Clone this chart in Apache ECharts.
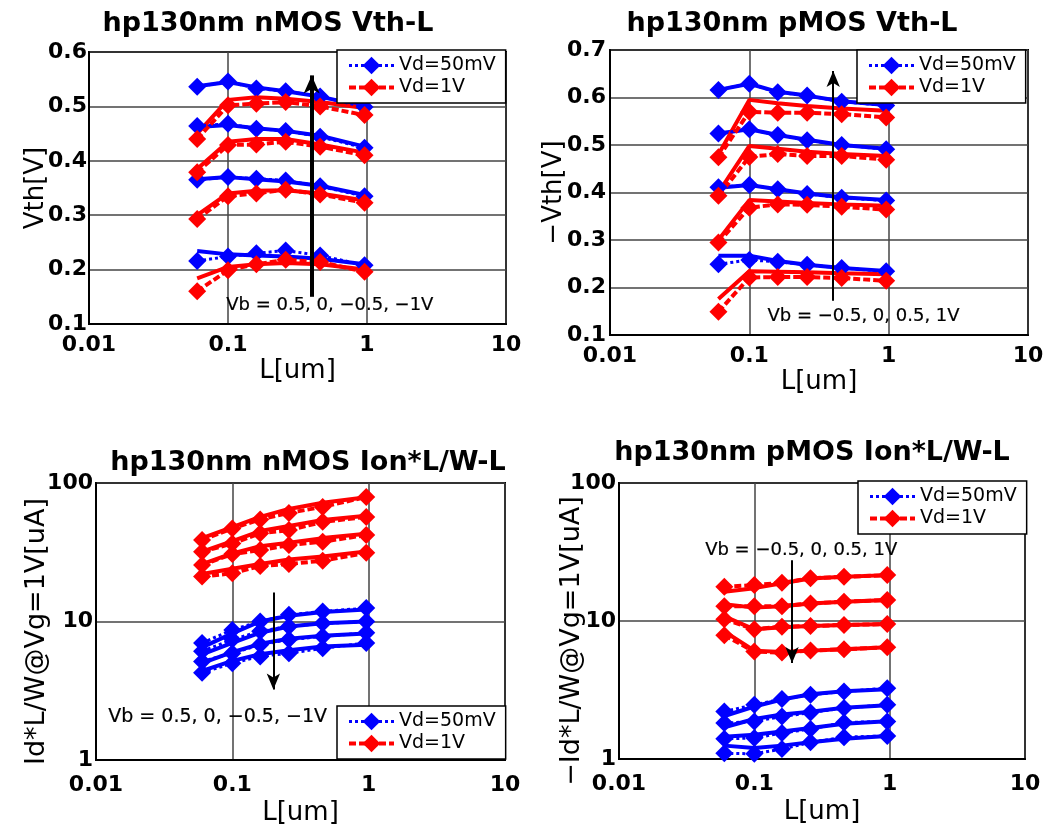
<!DOCTYPE html>
<html><head><meta charset="utf-8">
<script src="https://cdn.jsdelivr.net/npm/echarts@6/dist/echarts.min.js"></script>
<style>html,body{margin:0;padding:0;background:#fff}#c{width:1051px;height:827px}</style>
</head><body><div id="c"></div>
<script>
// Gate length points [um]
const L = [0.06, 0.1, 0.16, 0.26, 0.46, 0.96];

// ---- Panel 1: nMOS Vth-L (measured, with markers) ----
const nVth_Vd50m_meas = [
  [0.536, 0.546, 0.533, 0.528, 0.518, 0.499],
  [0.464, 0.468, 0.459, 0.455, 0.444, 0.424],
  [0.365, 0.370, 0.367, 0.364, 0.353, 0.335],
  [0.216, 0.224, 0.230, 0.235, 0.226, 0.208]
];
const nVth_Vd1_meas = [
  [0.440, 0.502, 0.505, 0.508, 0.500, 0.484],
  [0.379, 0.429, 0.430, 0.435, 0.426, 0.410],
  [0.293, 0.335, 0.340, 0.347, 0.338, 0.323],
  [0.160, 0.199, 0.210, 0.218, 0.214, 0.196]
];
const nVth_Vd50m_sim = [
  [0.537, 0.545, 0.535, 0.528, 0.518, 0.500],
  [0.462, 0.466, 0.460, 0.455, 0.446, 0.426],
  [0.366, 0.370, 0.366, 0.362, 0.354, 0.337],
  [0.234, 0.228, 0.226, 0.224, 0.220, 0.210]
];
const nVth_Vd1_sim = [
  [0.450, 0.512, 0.517, 0.514, 0.508, 0.497],
  [0.385, 0.435, 0.440, 0.440, 0.430, 0.415],
  [0.300, 0.340, 0.345, 0.346, 0.340, 0.327],
  [0.184, 0.205, 0.210, 0.212, 0.210, 0.200]
];

// ---- Panel 2: pMOS -Vth-L ----
const pVth_Vd50m_meas = [
  [0.616, 0.629, 0.611, 0.604, 0.591, 0.583],
  [0.524, 0.533, 0.521, 0.510, 0.500, 0.491],
  [0.411, 0.416, 0.407, 0.397, 0.389, 0.383],
  [0.249, 0.258, 0.254, 0.248, 0.241, 0.234]
];
const pVth_Vd1_meas = [
  [0.474, 0.570, 0.568, 0.568, 0.565, 0.558],
  [0.393, 0.475, 0.481, 0.477, 0.477, 0.469],
  [0.295, 0.368, 0.375, 0.374, 0.370, 0.364],
  [0.149, 0.221, 0.222, 0.222, 0.220, 0.214]
];
const pVth_Vd50m_sim = [
  [0.616, 0.629, 0.612, 0.604, 0.592, 0.584],
  [0.524, 0.533, 0.521, 0.511, 0.500, 0.492],
  [0.410, 0.416, 0.407, 0.398, 0.390, 0.384],
  [0.267, 0.267, 0.256, 0.248, 0.241, 0.235]
];
const pVth_Vd1_sim = [
  [0.480, 0.595, 0.588, 0.582, 0.577, 0.572],
  [0.400, 0.498, 0.492, 0.486, 0.481, 0.477],
  [0.300, 0.384, 0.381, 0.378, 0.375, 0.372],
  [0.176, 0.234, 0.233, 0.232, 0.230, 0.228]
];

// ---- Panel 3: nMOS Ion*L/W-L [uA] ----
const nIon_Vd50m_meas = [
  [7.0, 8.7, 10.0, 11.2, 11.8, 12.5],
  [6.1, 7.4, 8.5, 9.2, 9.7, 10.0],
  [5.15, 5.9, 6.8, 7.4, 7.8, 8.3],
  [4.26, 5.0, 5.6, 5.9, 6.4, 7.0]
];
const nIon_Vd1_meas = [
  [38.7, 47.0, 54.6, 60.8, 67.2, 79.3],
  [31.9, 36.6, 43.3, 45.7, 52.4, 56.9],
  [25.6, 30.7, 32.8, 35.6, 37.7, 42.1],
  [21.1, 22.3, 25.2, 26.0, 27.5, 31.3]
];
const nIon_Vd50m_sim = [
  [6.5, 8.2, 10.0, 11.0, 11.7, 12.2],
  [5.8, 7.0, 8.3, 9.2, 9.7, 10.0],
  [5.0, 6.0, 6.9, 7.5, 7.9, 8.2],
  [4.4, 5.2, 5.8, 6.2, 6.6, 6.8]
];
const nIon_Vd1_sim = [
  [40, 48, 57, 65, 72, 79],
  [32, 38, 45, 49, 54, 58],
  [26, 31, 35, 37, 40, 43],
  [22, 24, 26, 28, 29.5, 32]
];

// ---- Panel 4: pMOS -Ion*L/W-L [uA] ----
const pIon_Vd50m_meas = [
  [2.21, 2.47, 2.72, 2.92, 3.08, 3.26],
  [1.82, 1.87, 2.03, 2.17, 2.34, 2.47],
  [1.40, 1.42, 1.54, 1.65, 1.84, 1.87],
  [1.10, 1.09, 1.18, 1.32, 1.44, 1.47]
];
const pIon_Vd1_meas = [
  [17.7, 18.2, 18.9, 20.4, 20.9, 21.5],
  [12.8, 12.8, 12.8, 13.4, 13.8, 14.2],
  [10.3, 8.7, 9.1, 9.2, 9.36, 9.5],
  [7.9, 6.0, 5.9, 6.1, 6.24, 6.46]
];
const pIon_Vd50m_sim = [
  [2.05, 2.4, 2.7, 2.95, 3.1, 3.2],
  [1.7, 1.95, 2.1, 2.2, 2.35, 2.45],
  [1.45, 1.5, 1.58, 1.68, 1.8, 1.88],
  [1.25, 1.2, 1.25, 1.32, 1.4, 1.47]
];
const pIon_Vd1_sim = [
  [16.3, 17.3, 18.8, 20.3, 20.9, 21.5],
  [13.2, 12.5, 12.8, 13.4, 13.8, 14.2],
  [10.8, 8.7, 9.0, 9.2, 9.35, 9.5],
  [8.4, 6.1, 5.95, 6.1, 6.25, 6.45]
];

// Annotations: arrow [x, yStart, yEnd] and text [x, y]
const arrows = [
  [0.4, 0.15, 0.557],
  [0.4, 0.172, 0.656],
  [0.2, 16.2, 3.23],
  [0.19, 27.6, 4.97]
];
const notes = [
  {text: 'Vb = 0.5, 0, \u22120.5, \u22121V', pos: [0.54, 0.134]},
  {text: 'Vb = \u22120.5, 0, 0.5, 1V', pos: [0.66, 0.140]},
  {text: 'Vb = 0.5, 0, \u22120.5, \u22121V', pos: [0.078, 2.03]},
  {text: 'Vb = \u22120.5, 0, 0.5, 1V', pos: [0.222, 32.6]}
];
const titles = ['hp130nm nMOS Vth-L', 'hp130nm pMOS Vth-L', 'hp130nm nMOS Ion*L/W-L', 'hp130nm pMOS Ion*L/W-L'];
const yNames = ['Vth[V]', '\u2212Vth[V]', 'Id*L/W@Vg=1V[uA]', '\u2212Id*L/W@Vg=1V[uA]'];
const legendNames = ['Vd=50mV', 'Vd=1V'];

const FONT = 'DejaVu Sans';
const BLUE = '#0000ff', RED = '#ff0000';
const BLUE_DASH = [3, 3], RED_DASH = [7, 3];

const grids = [
  {left: 89, top: 52, width: 417, height: 272},
  {left: 610, top: 50, width: 418, height: 285},
  {left: 96, top: 483, width: 409, height: 278},
  {left: 619, top: 483, width: 406, height: 276}
];

const fmtNum = v => String(Number(Number(v).toPrecision(3)));

const xAxes = grids.map((g, i) => ({
  type: 'log', logBase: 10, min: 0.01, max: 10, gridIndex: i,
  name: 'L[um]', nameLocation: 'middle', nameGap: i < 2 ? 34 : 40, nameMoveOverlap: false,
  nameTextStyle: {fontFamily: FONT, fontSize: 26, color: '#000'},
  axisLine: {show: true, lineStyle: {color: '#000', width: 2}},
  axisTick: {show: false},
  axisLabel: {fontFamily: FONT, fontSize: 22, fontWeight: 'bold', color: '#000', margin: i < 2 ? 10 : 14, formatter: fmtNum},
  splitLine: {show: true, lineStyle: {color: '#444', width: 1.5}},
  minorTick: {show: false}
}));

const yAxes = [
  {type: 'value', min: 0.1, max: 0.6, interval: 0.1, nameGap: 40, namePad: 0, lm: 2},
  {type: 'value', min: 0.1, max: 0.7, interval: 0.1, nameGap: 43, namePad: 0, lm: 4},
  {type: 'log', logBase: 10, min: 1, max: 100, nameGap: 46, namePad: 20, lm: 3},
  {type: 'log', logBase: 10, min: 1, max: 100, nameGap: 34, namePad: 40, lm: 3}
].map((a, i) => {
  const pad = a.namePad, lm = a.lm; delete a.namePad; delete a.lm;
  return Object.assign(a, {
    gridIndex: i, name: yNames[i], nameLocation: 'middle', nameMoveOverlap: false,
    nameTextStyle: {fontFamily: FONT, fontSize: i >= 2 ? 27 : 26, color: '#000', padding: [0, pad, 0, 0]},
    axisLine: {show: true, lineStyle: {color: '#000', width: 2}},
    axisTick: {show: false},
    axisLabel: {fontFamily: FONT, fontSize: 22, fontWeight: 'bold', color: '#000', margin: lm,
      formatter: i < 2 ? (v => Number(v).toFixed(1)) : fmtNum, padding: [10, 0, 0, 0]},
    splitLine: {show: true, lineStyle: {color: '#444', width: 1.5}}
  });
});

const series = [];
function addMeas(gi, name, vals, color, dash, width) {
  series.push({
    type: 'line', name: name, xAxisIndex: gi, yAxisIndex: gi,
    data: L.map((x, k) => [x, vals[k]]),
    symbol: 'diamond', symbolSize: 18, showSymbol: true,
    itemStyle: {color: color},
    lineStyle: {color: color, width: width, type: dash},
    z: 3, animation: false
  });
}
function addSim(gi, vals, color) {
  series.push({
    type: 'line', name: 'sim', xAxisIndex: gi, yAxisIndex: gi,
    data: L.map((x, k) => [x, vals[k]]),
    symbol: 'none', lineStyle: {color: color, width: 4, type: 'solid'},
    z: 2, animation: false
  });
}
const panels = [
  [nVth_Vd50m_meas, nVth_Vd1_meas, nVth_Vd50m_sim, nVth_Vd1_sim],
  [pVth_Vd50m_meas, pVth_Vd1_meas, pVth_Vd50m_sim, pVth_Vd1_sim],
  [nIon_Vd50m_meas, nIon_Vd1_meas, nIon_Vd50m_sim, nIon_Vd1_sim],
  [pIon_Vd50m_meas, pIon_Vd1_meas, pIon_Vd50m_sim, pIon_Vd1_sim]
];
panels.forEach((p, gi) => {
  p[2].forEach(v => addSim(gi, v, BLUE));
  p[3].forEach(v => addSim(gi, v, RED));
  p[0].forEach(v => addMeas(gi, legendNames[0], v, BLUE, BLUE_DASH, 3));
  p[1].forEach(v => addMeas(gi, legendNames[1], v, RED, RED_DASH, 4));
  const a = arrows[gi];
  series.push({
    type: 'line', name: 'arrow', xAxisIndex: gi, yAxisIndex: gi, data: [],
    silent: true, animation: false,
    markLine: {
      silent: true, symbol: ['none', 'arrow'], symbolSize: gi === 0 ? [12, 18] : [10, 16],
      label: {show: false},
      lineStyle: {color: '#000', width: gi === 0 ? 4 : 2, type: 'solid'},
      data: [[{coord: [a[0], a[1]]}, {coord: [a[0], a[2]]}]],
      animation: false
    }
  });
  series.push({
    type: 'scatter', name: 'note', xAxisIndex: gi, yAxisIndex: gi,
    data: [notes[gi].pos], symbol: 'rect', symbolSize: 1,
    itemStyle: {color: '#fff', opacity: 1}, silent: true, animation: false, z: 5,
    label: {show: true, position: 'inside', formatter: notes[gi].text,
      fontFamily: FONT, fontSize: gi === 2 ? 19 : 18, color: '#000', opacity: 1,
      textBorderWidth: 0.2, textBorderColor: '#000'}
  });
});

const titleCfg = [[268, 10], [792, 10], [308, 449], [812, 439]];
const legendPos = [[337, 50], [857, 50], [337, 706], [858, 481]];

const legendData = [
  {name: legendNames[0], itemStyle: {color: BLUE}, lineStyle: {color: BLUE, width: 3, type: BLUE_DASH}},
  {name: legendNames[1], itemStyle: {color: RED}, lineStyle: {color: RED, width: 4, type: RED_DASH}}
];

const option = {
  backgroundColor: '#fff',
  animation: false,
  title: titles.map((t, i) => ({
    text: t, left: titleCfg[i][0], top: titleCfg[i][1], textAlign: 'center', padding: 0,
    textStyle: {fontFamily: FONT, fontSize: 27, fontWeight: 'bold', color: '#000'}
  })),
  legend: legendPos.map(p => ({
    data: legendData, orient: 'vertical', left: p[0], top: p[1],
    backgroundColor: '#fff', borderColor: '#000', borderWidth: 1.5,
    padding: [6, 10], itemGap: 3, itemWidth: 45, itemHeight: 22,
    textStyle: {fontFamily: FONT, fontSize: 19, color: '#000'},
    selectedMode: false, z: 10
  })),
  grid: grids.map(g => Object.assign({show: true, borderColor: '#000', borderWidth: 2, backgroundColor: 'transparent'}, g)),
  xAxis: xAxes,
  yAxis: yAxes,
  series: series
};
const chart = echarts.init(document.getElementById('c'), null, {renderer: 'canvas'});
chart.setOption(option);
</script></body></html>
